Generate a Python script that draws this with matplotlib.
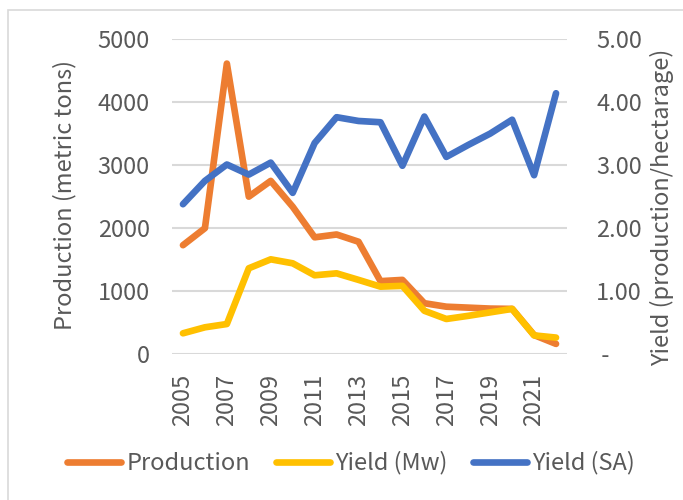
import matplotlib
matplotlib.use("Agg")
import matplotlib.pyplot as plt
from matplotlib.patches import Rectangle

plt.rcParams['font.family'] = ['Noto Sans CJK JP', 'DejaVu Sans']

# data
years = list(range(2005, 2023))
production = [1730, 2000, 4610, 2500, 2750, 2340, 1855, 1900, 1785,
              1160, 1180, 810, 755, 740, 725, 720, 305, 165]
yield_mw = [333, 428, 480, 1364, 1506, 1443, 1253, 1284, 1180,
            1073, 1085, 690, 560, 610, 665, 720, 300, 265]
yield_sa = [2.38, 2.75, 3.01, 2.85, 3.04, 2.56, 3.35, 3.76, 3.70,
            3.68, 2.99, 3.77, 3.13, 3.32, 3.50, 3.72, 2.84, 4.14]

left_ticks = [0, 1000, 2000, 3000, 4000, 5000]
right_ticks = [0, 1, 2, 3, 4, 5]
right_labels = [" -", "1.00", "2.00", "3.00", "4.00", "5.00"]

gray = "#595959"
grid = "#d9d9d9"
c_prod = "#ED7D31"
c_mw = "#FFC000"
c_sa = "#4472C4"
fs = 17

fig = plt.figure(figsize=(6.83, 5.0), dpi=100)
# chart area border (cropped at right and bottom)
fig.patches.append(Rectangle((8 / 683, -0.1), 1.0, 1 - 10 / 500 + 0.1,
                             transform=fig.transFigure, fill=False,
                             edgecolor=grid, linewidth=1.2))

ax = fig.add_axes([172 / 683, 1 - 354.3 / 500, (567 - 172) / 683, (354.3 - 39) / 500])
x = list(range(len(years)))

ax.set_ylim(0, 5000)
ax.set_xlim(-0.5, len(years) - 0.5)
ax.set_yticks(left_ticks)
ax.set_yticklabels([str(v) for v in left_ticks])
ax.yaxis.grid(True, color=grid, linewidth=1.5)
ax.set_axisbelow(True)
for s in ax.spines.values():
    s.set_visible(False)
ax.tick_params(length=0, labelsize=fs, labelcolor=gray)
ax.tick_params(axis='y', pad=16)
ax.set_xticks(x[::2])
ax.set_xticklabels([str(y) for y in years[::2]], rotation=90)
ax.tick_params(axis='x', pad=14)

l1, = ax.plot(x, production, color=c_prod, linewidth=4.8, solid_capstyle='round',
              solid_joinstyle='round', label="Production")
l2, = ax.plot(x, yield_mw, color=c_mw, linewidth=4.8, solid_capstyle='round',
              solid_joinstyle='round', label="Yield (Mw)")
ax.set_ylabel("Production (metric tons)", fontsize=fs, color=gray)
ax.yaxis.set_label_coords((76 - 172) / 395, 0.505)

ax2 = ax.twinx()
ax2.set_ylim(0, 5)
ax2.set_yticks(right_ticks)
ax2.set_yticklabels(right_labels)
for s in ax2.spines.values():
    s.set_visible(False)
ax2.tick_params(length=0, labelsize=fs, labelcolor=gray, pad=21)
l3, = ax2.plot(x, yield_sa, color=c_sa, linewidth=4.8, solid_capstyle='round',
               solid_joinstyle='round', label="Yield (SA)")
ax2.set_ylabel("Yield (production/hectarage)", fontsize=fs, color=gray)
ax2.yaxis.set_label_coords((650 - 172) / 395, 0.467)

fig.legend(handles=[l1, l2, l3], loc='center', bbox_to_anchor=(0.514, 1 - 463 / 500),
           ncol=3, frameon=False, fontsize=fs, labelcolor=gray, handlelength=2.3,
           handletextpad=0.2, columnspacing=1.1)

fig.savefig("out.png", dpi=100)
